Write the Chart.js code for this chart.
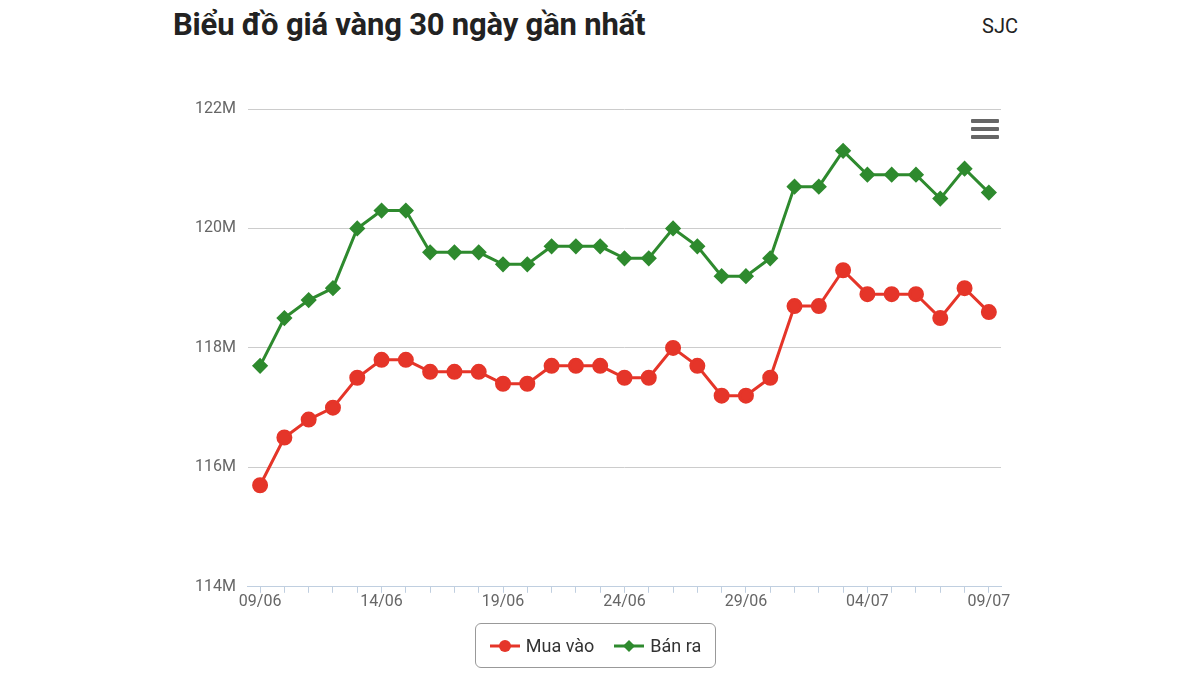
<!DOCTYPE html>
<html>
<head>
<meta charset="utf-8">
<script src="https://cdn.jsdelivr.net/npm/chart.js@4"></script>
<style>
  body { margin: 0; width: 1200px; height: 675px; background: #fff; font-family: Roboto, "Noto Sans", sans-serif; position: relative; overflow: hidden; }
  #title { position: absolute; left: 173px; top: 6px; font-size: 31px; font-weight: bold; color: #222; letter-spacing: -0.2px; }
  #brand { position: absolute; right: 182px; top: 14px; font-size: 20px; color: #222; }
  #menu { position: absolute; left: 971px; top: 119px; width: 28px; }
  #menu div { height: 4px; background: #666; margin-bottom: 4px; border-radius: 1px; }
  #legend { position: absolute; left: 475px; top: 623px; width: 241px; height: 45px; border: 1px solid #999; border-radius: 6px; box-sizing: border-box; display: flex; align-items: center; justify-content: center; gap: 20px; font-size: 18px; color: #333; }
  .item { display: flex; align-items: center; gap: 6px; }
  #chart { position: absolute; left: 0; top: 0; }
</style>
</head>
<body>
<div id="title">Biểu đồ giá vàng 30 ngày gần nhất</div>
<div id="brand">SJC</div>
<canvas id="chart" width="1200" height="675"></canvas>
<div id="menu"><div></div><div></div><div></div></div>
<div id="legend">
  <div class="item"><svg width="30" height="14"><line x1="0" y1="7" x2="30" y2="7" stroke="#e53529" stroke-width="3"/><circle cx="15" cy="7" r="6" fill="#e53529"/></svg>Mua vào</div>
  <div class="item"><svg width="30" height="14"><line x1="0" y1="7" x2="30" y2="7" stroke="#2e8a2e" stroke-width="3"/><path d="M15 1 L21 7 L15 13 L9 7 Z" fill="#2e8a2e"/></svg>Bán ra</div>
</div>
<script>
const dates = ['09/06','10/06','11/06','12/06','13/06','14/06','15/06','16/06','17/06','18/06','19/06','20/06','21/06','22/06','23/06','24/06','25/06','26/06','27/06','28/06','29/06','30/06','01/07','02/07','03/07','04/07','05/07','06/07','07/07','08/07','09/07'];
const buyPrices = [115.7,116.5,116.8,117.0,117.5,117.8,117.8,117.6,117.6,117.6,117.4,117.4,117.7,117.7,117.7,117.5,117.5,118.0,117.7,117.2,117.2,117.5,118.7,118.7,119.3,118.9,118.9,118.9,118.5,119.0,118.6];
const sellPrices = [117.7,118.5,118.8,119.0,120.0,120.3,120.3,119.6,119.6,119.6,119.4,119.4,119.7,119.7,119.7,119.5,119.5,120.0,119.7,119.2,119.2,119.5,120.7,120.7,121.3,120.9,120.9,120.9,120.5,121.0,120.6];
const yTicks = [114, 116, 118, 120, 122];

const ctx = document.getElementById('chart').getContext('2d');
new Chart(ctx, {
  type: 'line',
  data: {
    labels: dates,
    datasets: [{
      label: 'Mua vào',
      data: buyPrices,
      borderColor: '#e53529',
      backgroundColor: '#e53529',
      borderWidth: 3,
      pointRadius: 6.5,
      pointStyle: 'circle',
      tension: 0
    }, {
      label: 'Bán ra',
      data: sellPrices,
      borderColor: '#2e8a2e',
      backgroundColor: '#2e8a2e',
      borderWidth: 3,
      pointRadius: 6,
      pointStyle: 'rectRot',
      tension: 0
    }]
  },
  options: {
    responsive: false,
    animation: false,
    layout: { padding: { left: 183, right: 199, top: 109, bottom: 63 } },
    plugins: { legend: { display: false }, tooltip: { enabled: false } },
    scales: {
      x: {
        offset: true,
        grid: { display: true, drawOnChartArea: false, tickLength: 6, color: '#c0cfe0', offset: false },
        border: { color: '#c0cfe0', width: 1 },
        ticks: {
          autoSkip: false, maxRotation: 0, padding: 0, color: '#666', font: { size: 16, family: 'Roboto' },
          callback: function(value, index) { return index % 5 === 0 ? dates[index] : ''; }
        }
      },
      y: {
        min: 114, max: 122,
        afterBuildTicks: function(axis) { axis.ticks = yTicks.map(v => ({ value: v })); },
        grid: { color: '#cccccc', drawTicks: false },
        border: { display: false },
        ticks: { padding: 12, color: '#666', font: { size: 16, family: 'Roboto' }, callback: v => v + 'M' }
      }
    }
  }
});
</script>
</body>
</html>
